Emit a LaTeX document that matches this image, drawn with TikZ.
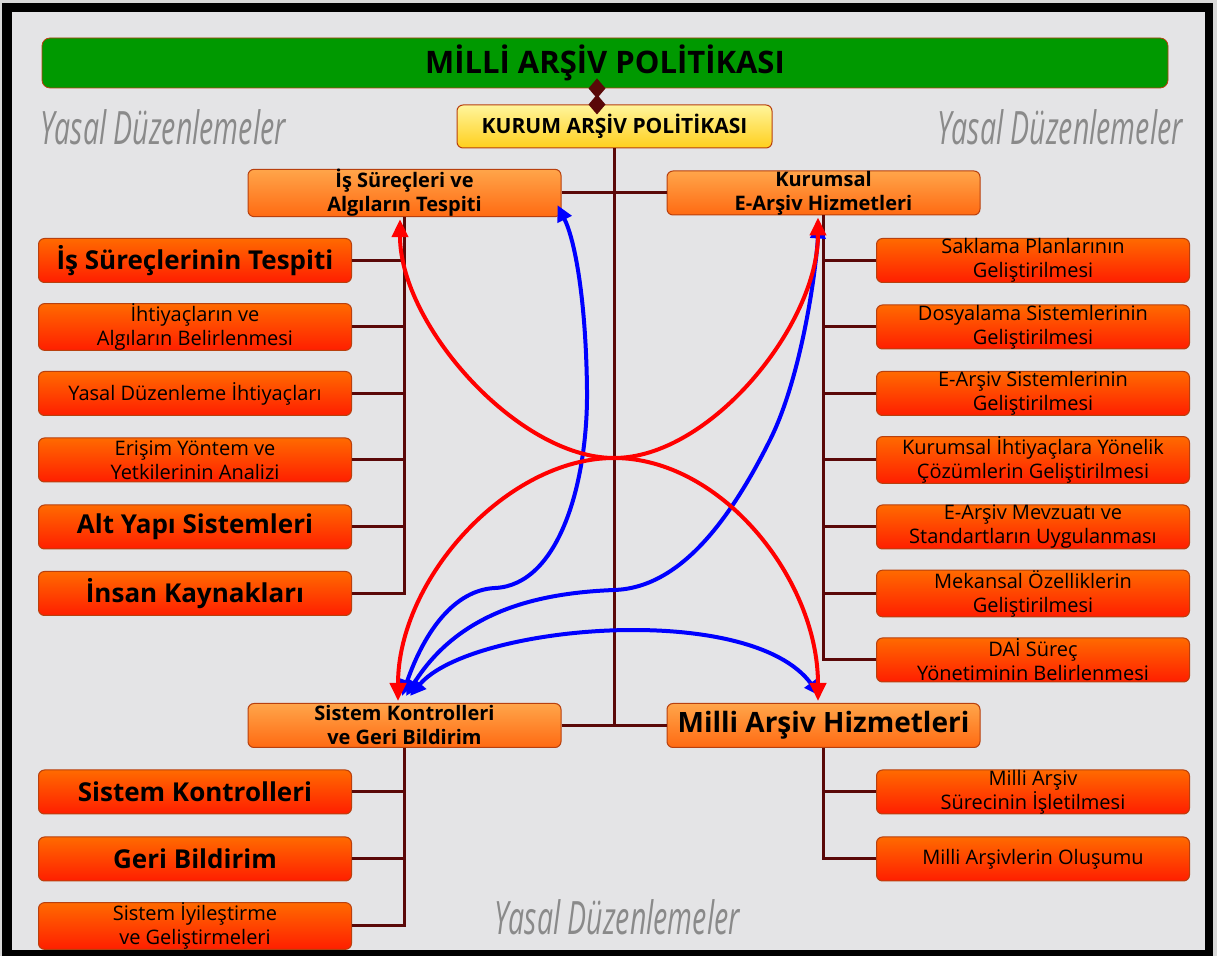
\documentclass[tikz,border=0pt]{standalone}
\usepackage{fontspec}
\setmainfont{Open Sans}
\usepackage{graphicx}
\usetikzlibrary{arrows.meta}

\definecolor{marble}{HTML}{E4E4E6}
\definecolor{screen}{HTML}{D8D8D8}
\definecolor{titlegreen}{HTML}{009900}
\definecolor{boxline}{HTML}{B8400E}
\definecolor{linkc}{HTML}{5A0808}
\definecolor{leaftop}{HTML}{FF6A00}
\definecolor{leafbot}{HTML}{FF1E00}
\definecolor{headtop}{HTML}{FFA54A}
\definecolor{headbot}{HTML}{FF6A12}
\definecolor{kurtop}{HTML}{FFF59C}
\definecolor{kurbot}{HTML}{FFCF1C}
\definecolor{yasalc}{HTML}{8A8A8A}

\tikzset{
	box/.style={draw=boxline, line width=0.5pt, rounded corners=3pt, minimum width=156.5pt,
		minimum height=22pt, inner sep=0pt, align=center, font=\fontsize{10}{12}\selectfont},
	leaf/.style={box, top color=leaftop, bottom color=leafbot},
	head/.style={box, top color=headtop, bottom color=headbot, font=\fontsize{10}{12}\selectfont\bfseries},
	big/.style={font=\fontsize{13}{15}\selectfont\bfseries},
	link/.style={draw=linkc, line width=1.5pt},
	redarr/.style={draw=red, line width=2pt, -{Triangle[length=9pt,width=8pt]}},
	bluearr/.style={draw=blue, line width=2pt, {Triangle[length=8pt,width=7.5pt]}-{Triangle[length=8pt,width=7.5pt]}},
	yasal/.style={text=yasalc, inner sep=0pt, font=\fontsize{23}{25}\selectfont\itshape}
}

\begin{document}
\begin{tikzpicture}[x=0.5pt,y=-0.5pt]
	\useasboundingbox (0,0) rectangle (1217,956);
	\fill[screen] (0,0) rectangle (1217,956);
	\fill[black] (2,3) rectangle (1213,956);
	\fill[marble] (12,12) rectangle (1205,950);

	\node (y1) [yasal] at (163,127) {\scalebox{0.62}[1]{Yasal Düzenlemeler}};
	\node (y2) [yasal] at (1060,127) {\scalebox{0.62}[1]{Yasal Düzenlemeler}};
	\node (y3) [yasal] at (617,917) {\scalebox{0.62}[1]{Yasal Düzenlemeler}};

	\node (0) [draw=boxline, fill=titlegreen, rounded corners=4pt, minimum width=563pt, minimum height=25pt,
		inner sep=0pt, font=\fontsize{15.5}{17}\selectfont\bfseries] at (605,63) {MİLLİ ARŞİV POLİTİKASI};
	\node (1) [box, minimum width=157.5pt, minimum height=21.5pt, top color=kurtop, bottom color=kurbot,
		font=\fontsize{10.5}{12}\selectfont\bfseries] at (614.5,126.5) {KURUM ARŞİV POLİTİKASI};

	\node (2) [head] at (404.5,193) {İş Süreçleri ve\\Algıların Tespiti};
	\node (3) [head] at (823.5,193) {Kurumsal\\E-Arşiv Hizmetleri};
	\node (4) [head] at (404.5,725.5) {Sistem Kontrolleri\\ve Geri Bildirim};
	\node (5) [head, font=\fontsize{14}{16}\selectfont\bfseries] at (823.5,725.5) {Milli Arşiv Hizmetleri};

	\node (6) [leaf,big] at (195,260.5) {İş Süreçlerinin Tespiti};
	\node (7) [leaf] at (195,327) {İhtiyaçların ve\\Algıların Belirlenmesi};
	\node (8) [leaf] at (195,393.5) {Yasal Düzenleme İhtiyaçları};
	\node (9) [leaf] at (195,460) {Erişim Yöntem ve\\Yetkilerinin Analizi};
	\node (10) [leaf,big] at (195,527) {Alt Yapı Sistemleri};
	\node (11) [leaf,big] at (195,593.5) {İnsan Kaynakları};

	\node (12) [leaf] at (1033,260.5) {Saklama Planlarının\\Geliştirilmesi};
	\node (13) [leaf] at (1033,327) {Dosyalama Sistemlerinin\\Geliştirilmesi};
	\node (14) [leaf] at (1033,393.5) {E-Arşiv Sistemlerinin\\Geliştirilmesi};
	\node (15) [leaf] at (1033,460) {Kurumsal İhtiyaçlara Yönelik\\Çözümlerin Geliştirilmesi};
	\node (16) [leaf] at (1033,527) {E-Arşiv Mevzuatı ve\\Standartların Uygulanması};
	\node (17) [leaf] at (1033,593.5) {Mekansal Özelliklerin\\Geliştirilmesi};
	\node (18) [leaf] at (1033,660) {DAİ Süreç\\Yönetiminin Belirlenmesi};

	\node (19) [leaf,big] at (195,792) {Sistem Kontrolleri};
	\node (20) [leaf,big] at (195,859) {Geri Bildirim};
	\node (21) [leaf] at (195,926) {Sistem İyileştirme\\ve Geliştirmeleri};

	\node (22) [leaf] at (1033,792) {Milli Arşiv\\Sürecinin İşletilmesi};
	\node (23) [leaf] at (1033,859) {Milli Arşivlerin Oluşumu};

	\draw [link, {Diamond[length=10pt,width=8.5pt]}-{Diamond[length=10pt,width=8.5pt]}, shorten <=-5pt, shorten >=-5pt]
		([xshift=-8.75pt]1.north) -- ([xshift=-8.75pt]1.north |- 0.south);
	\draw [link] (1.south) -- (1.south |- 4.east);
	\draw [link] (2.east) -- (3.west);
	\draw [link] (4.east) -- (5.west);
	\foreach \i in {6,...,11} \draw [link] (2.south) |- (\i.east);
	\foreach \i in {12,...,18} \draw [link] (3.south) |- (\i.west);
	\foreach \i in {19,20,21} \draw [link] (4.south) |- (\i.east);
	\foreach \i in {22,23} \draw [link] (5.south) |- (\i.west);

	\coordinate (c) at (614,458);
	\draw [bluearr] ([xshift=-1.25pt,yshift=3.5pt]4.north) .. controls (425,630) and (455,590) .. (495,588)
		.. controls (560,585) and (588,480) .. (587,390) .. controls (586,300) and (575,240) .. ([xshift=-2pt,yshift=6pt]2.south east);
	\draw [bluearr] ([xshift=0.75pt,yshift=3.5pt]4.north) .. controls (460,610) and (540,593) .. (614,590)
		.. controls (680,588) and (730,520) .. (770,440) .. controls (800,380) and (815,280) .. ([xshift=-2.25pt,yshift=-3.5pt]3.south);
	\draw [bluearr] ([xshift=2.75pt,yshift=3.5pt]4.north) .. controls (470,625) and (750,600) .. ([xshift=-1.75pt,yshift=3.5pt]5.north);

	\draw [redarr] (c) .. controls (518,458) and (400,325) .. ([xshift=-2.25pt,yshift=-1pt]2.south);
	\draw [redarr] (c) .. controls (710,458) and (818,325) .. ([xshift=-2.75pt,yshift=-1pt]3.south);
	\draw [redarr] (c) .. controls (507,458) and (398,579) .. ([xshift=-3.25pt,yshift=1pt]4.north);
	\draw [redarr] (c) .. controls (721,458) and (818,579) .. ([xshift=-2.75pt,yshift=1pt]5.north);
\end{tikzpicture}
\end{document}
